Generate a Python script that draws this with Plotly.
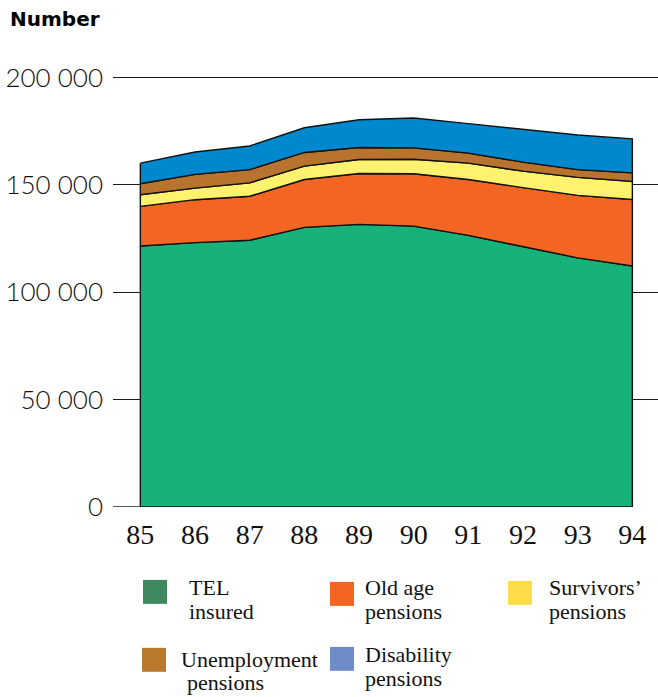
import numpy as np
import plotly.graph_objects as go

# Years (1985-1994) and stacked components, number of people
years = [85, 86, 87, 88, 89, 90, 91, 92, 93, 94]
tel_insured = [121500, 123100, 124200, 130200, 131600, 130800, 126500, 121100, 116000, 112200]
old_age = [18500, 20000, 20500, 22300, 23700, 24400, 26000, 27600, 29100, 31000]
survivors = [5400, 5400, 6200, 6200, 6500, 6700, 7600, 7700, 8400, 8400]
unemployment = [5100, 6400, 6200, 6400, 5600, 5300, 4700, 4200, 3600, 4000]
disability = [9600, 10400, 11000, 11500, 12900, 13900, 13700, 15100, 16100, 15800]

series_names = ["TEL insured", "Old age pensions", "Survivors' pensions",
                "Unemployment pensions", "Disability pensions"]
fill_colors = ["#16B27A", "#F26522", "#FFF26E", "#B8732F", "#0088CF"]
legend_colors = ["#3E8A5E", "#F26522", "#FFDD4A", "#B97A30", "#6E8CC8"]
legend_lines = [["TEL", "insured"], ["Old age", "pensions"], ["Survivors’", "pensions"],
                ["Unemployment", "pensions"], ["Disability", "pensions"]]

y_ticks = [50000, 100000, 150000, 200000]
y_tick_text = ["50 000", "100 000", "150 000", "200 000"]

W, H = 658, 697
Y_MAX = 210000
L, PW = 113, 545
BOTTOM = 507                      # pixel row of the zero value
PH = 430 * Y_MAX / 200000         # 430 px per 200 000
T = BOTTOM - PH

stack = np.array([tel_insured, old_age, survivors, unemployment, disability], dtype=float)
tops = np.cumsum(stack, axis=0)
bottoms = np.vstack([np.zeros(len(years)), tops[:-1]])

fig = go.Figure()
for i, name in enumerate(series_names):
    xs = list(years) + list(years[::-1]) + [years[0]]
    ys = list(tops[i]) + list(bottoms[i][::-1]) + [tops[i][0]]
    fig.add_trace(go.Scatter(
        x=xs, y=ys, mode="lines", fill="toself", name=name,
        fillcolor=fill_colors[i],
        line=dict(color="#111111", width=1.4),
        hoverinfo="skip", showlegend=False,
    ))

# left stub of the zero line
fig.add_shape(type="line", xref="x", yref="y", x0=84.5, x1=85, y0=0, y1=0,
              line=dict(color="#111111", width=1.4), layer="below")


def px_x(px):
    return (px - L) / PW


def px_y(py):
    return (BOTTOM - py) / PH


# manual legend: swatch boxes (pixel positions) and two-line labels
legend_pos = [
    (143, 580, 187, 588, 612),
    (330, 582, 363, 588, 612),
    (508, 581, 547, 588, 612),
    (142, 648, 179, 660, 683),
    (330, 647, 363, 655, 679),
]
label_dx = [0, 0, 0, 6, 0]
for i, (sx, sy, tx, ty1, ty2) in enumerate(legend_pos):
    fig.add_shape(type="rect", xref="paper", yref="paper",
                  x0=px_x(sx), x1=px_x(sx + 24), y0=px_y(sy), y1=px_y(sy + 24),
                  fillcolor=legend_colors[i], line=dict(width=0))
    for j, (txt, ty) in enumerate(zip(legend_lines[i], (ty1, ty2))):
        fig.add_annotation(
            x=px_x(tx + (label_dx[i] if j == 1 else 0)), y=px_y(ty),
            xref="paper", yref="paper", xanchor="left", yanchor="middle",
            text=txt, showarrow=False,
            font=dict(family="Liberation Serif", size=22, color="#111111"),
        )

fig.add_annotation(
    x=px_x(8), y=px_y(18), xref="paper", yref="paper",
    xanchor="left", yanchor="middle", text="<b>Number</b>", showarrow=False,
    font=dict(family="DejaVu Sans", size=20, color="#000000"),
)

fig.update_layout(
    width=W, height=H,
    margin=dict(l=L, r=W - L - PW, t=T, b=H - BOTTOM),
    paper_bgcolor="white", plot_bgcolor="white",
    showlegend=False,
    xaxis=dict(
        range=[84.5, 84.5 + PW / 54.67],
        tickvals=years, ticktext=[str(y) for y in years],
        showgrid=False, zeroline=False, showline=False, ticks="",
        ticklabelstandoff=8,
        tickfont=dict(family="Liberation Serif", size=28, color="#111111"),
        fixedrange=True,
    ),
    yaxis=dict(
        range=[0, Y_MAX],
        tickvals=[0] + y_ticks, ticktext=["0"] + y_tick_text,
        showgrid=True, gridcolor="#1a1a1a", gridwidth=1.2,
        zeroline=False, showline=False, ticks="",
        ticklabelstandoff=9,
        tickfont=dict(family="Lato", size=26, color="#111111", weight=300),
        fixedrange=True,
    ),
)

fig.write_html("out.html")
